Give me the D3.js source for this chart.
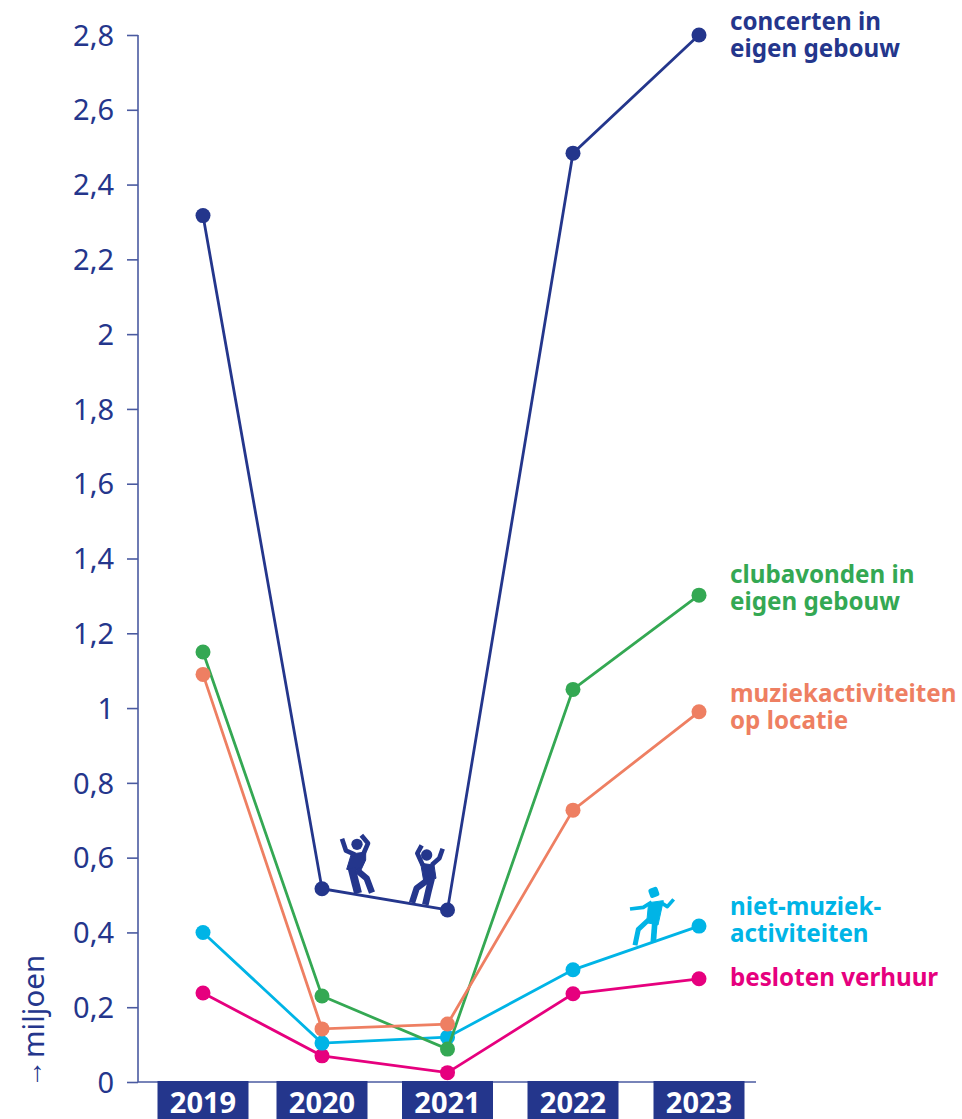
<!DOCTYPE html>
<html><head><meta charset="utf-8">
<script src="https://cdn.jsdelivr.net/npm/d3@7/dist/d3.min.js"></script>
<style>html,body{margin:0;padding:0;background:#fff}svg{display:block}text{font-family:"Noto Sans","Open Sans",sans-serif}</style>
</head><body><svg id="c" width="962" height="1119"></svg>
<script>
const years=["2019","2020","2021","2022","2023"];
const yearX=[203,322,447.5,573,699];
const yTicks=[0,0.2,0.4,0.6,0.8,1,1.2,1.4,1.6,1.8,2,2.2,2.4,2.6,2.8];
const concerten=[2.317,0.517,0.46,2.484,2.8];
const clubavonden=[1.15,0.23,0.088,1.05,1.302];
const locatie=[1.09,0.142,0.155,0.727,0.99];
const nietMuziek=[0.40,0.104,0.12,0.30,0.417];
const verhuur=[0.238,0.07,0.025,0.236,0.276];
const colNavy="#24368c",colGreen="#34a853",colOrange="#ee7f62",colCyan="#00b4e6",colPink="#e6007e";
const series=[
 {v:concerten,c:colNavy,l:["concerten in","eigen gebouw"],ly:30},
 {v:clubavonden,c:colGreen,l:["clubavonden in","eigen gebouw"],ly:583},
 {v:locatie,c:colOrange,l:["muziekactiviteiten","op locatie"],ly:702},
 {v:nietMuziek,c:colCyan,l:["niet-muziek-","activiteiten"],ly:915},
 {v:verhuur,c:colPink,l:["besloten verhuur"],ly:986}
];
const svg=d3.select("#c");
const x=d3.scaleOrdinal(years,yearX);
const y=d3.scaleLinear([0,2.8],[1082,35]);

// y axis
const gy=svg.append("g").attr("transform","translate(138,0)").call(d3.axisLeft(y).tickValues(yTicks).tickSize(11).tickPadding(13)
  .tickFormat(d=>String(d).replace(".",",")));
gy.selectAll("path,line").attr("stroke","#4a5aa0").attr("stroke-width",1.6);
gy.select("path").attr("d","M0,35V1082");
gy.selectAll("text").attr("fill",colNavy).attr("font-size",29).attr("dy","0.35em");

// x baseline
svg.append("line").attr("x1",138).attr("x2",756).attr("y1",1082).attr("y2",1082).attr("stroke","#4a5aa0").attr("stroke-width",1.6);

// year labels
const gx=svg.append("g").selectAll("g").data(years).join("g").attr("transform",d=>`translate(${x(d)},0)`);
gx.append("rect").attr("x",-45.5).attr("width",91).attr("y",1081).attr("height",38).attr("fill",colNavy);
gx.append("text").attr("text-anchor","middle").attr("y",1113).attr("fill","#fff").attr("font-size",29).attr("font-weight",700).text(d=>d);

// y title
svg.append("text").attr("transform","translate(43.5,1058) rotate(-90)").attr("fill",colNavy).attr("font-size",29.5).text("miljoen");
svg.append("text").attr("transform","translate(41.5,1088) rotate(-90)").attr("fill",colNavy).attr("font-size",28).text("→");

// lines
const line=d3.line().x((d,i)=>x(years[i])).y(d=>y(d));
const order=[series[0],series[4],series[3],series[1],series[2]];
order.forEach(s=>{
  const g=svg.append("g");
  g.append("path").attr("d",line(s.v)).attr("fill","none").attr("stroke",s.c).attr("stroke-width",2.8);
  g.selectAll("circle").data(s.v).join("circle").attr("cx",(d,i)=>x(years[i])).attr("cy",d=>y(d)).attr("r",7.5).attr("fill",s.c);
});

// series labels
series.forEach(s=>{
  s.l.forEach((t,i)=>svg.append("text").attr("x",730).attr("y",s.ly+i*26.5).attr("fill",s.c).attr("font-size",24.2).attr("font-weight",700).text(t));
});

// pictograms, authored at 3x in a local frame
function picto(tx,ty,c,circles,polys,strokes){
  const g=svg.append("g").attr("transform",`translate(${tx},${ty}) scale(${1/3})`).attr("fill",c);
  circles.forEach(a=>g.append("circle").attr("cx",a[0]).attr("cy",a[1]).attr("r",a[2]));
  polys.forEach(d=>g.append("path").attr("d",d).attr("stroke",c).attr("stroke-width",3).attr("stroke-linejoin","round"));
  strokes.forEach(a=>g.append("path").attr("d",a[0]).attr("fill","none").attr("stroke",c).attr("stroke-width",a[1]).attr("stroke-linejoin","round"));
  return g;
}
picto(300,810,colNavy,[[171,103,17],[380,135,17]],
 ["M154,132L197,126L197,150L182,182L140,178Z","M362,160L402,165L408,205L372,218Z"],
 [["M126,86L138,122L165,134",14],["M184,76L204,100L190,132",14],
  ["M155,175L174,250",24],["M170,180L200,205L216,248",19],
  ["M365,106L352,130L368,165",14],["M428,116L418,145L395,165",14],
  ["M390,205L350,235L336,278",19],["M395,205L385,245L376,284",20]]);
const w=picto(610,870,colCyan,[],
 ["M116,98L160,92L144,165L110,158Z"],
 [["M60,117L100,112L125,96",11],["M191,88L172,110L150,96",11],
  ["M115,150L85,178L75,226",15],["M135,150L130,216",17]]);
w.append("rect").attr("x",117).attr("y",53).attr("width",29).attr("height",29).attr("rx",7).attr("transform","rotate(-20 131 67)");
</script></body></html>
